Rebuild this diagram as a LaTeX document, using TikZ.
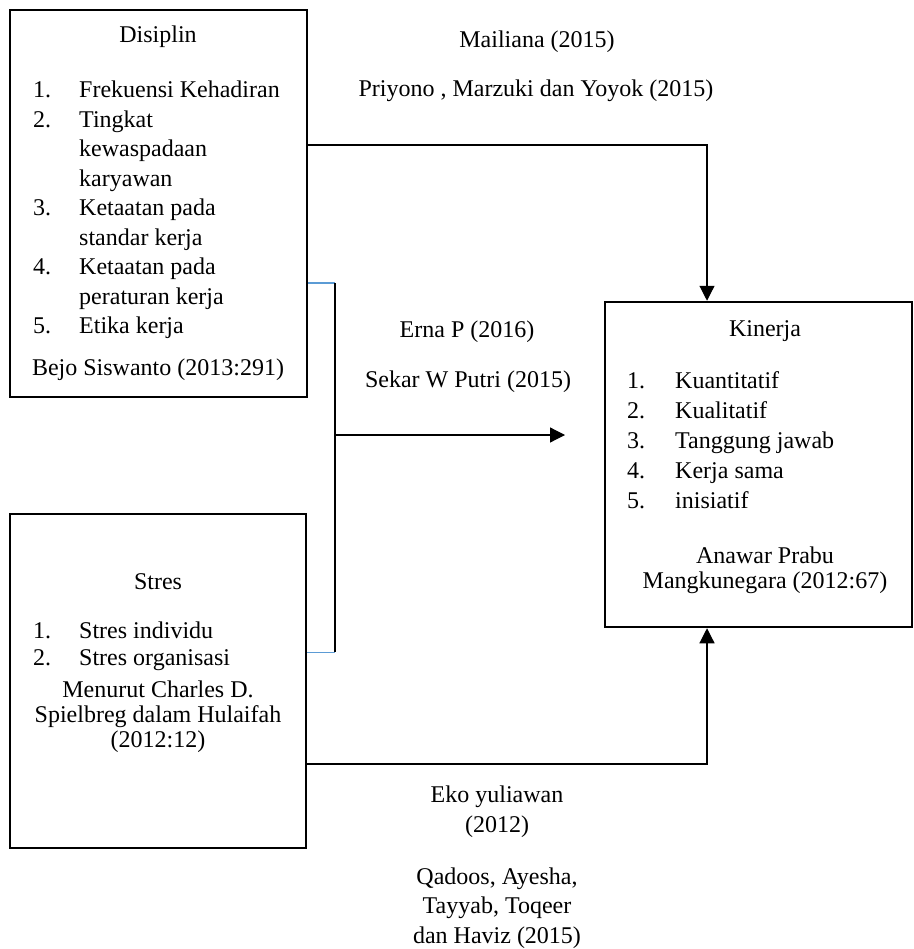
\documentclass[tikz,border=0pt]{standalone}
\usepackage{fontspec}
\setmainfont{Liberation Serif}
\usetikzlibrary{arrows.meta,positioning}
\definecolor{linkblue}{RGB}{91,155,213}

\begin{document}
\begin{tikzpicture}[x=1pt, y=-1pt,
  every node/.style={font=\fontsize{24}{30}\selectfont, inner sep=0pt},
  box/.style={draw, line width=2.5pt},
  conn/.style={line width=1.2pt},
  arr/.style={conn, -{Triangle[length=15pt, width=15pt]}},
  brace/.style={linkblue, line width=1pt}]
  \useasboundingbox (0,0) rectangle (913,949);
  % variable boxes
  \node[box, minimum width=297pt, minimum height=387pt] (dis) at (158.5,203.5) {};
  \node[box, minimum width=296pt, minimum height=334pt] (str) at (158,681) {};
  \node[box, minimum width=307pt, minimum height=325pt] (kin) at (758.5,464.5) {};
  % Disiplin
  \node (dist) at (158,37) {Disiplin};
  \node[anchor=base west, font=\fontsize{24}{29.5}\selectfont] (disl) at (33,98)
    {\begin{tabular}[t]{@{}p{46pt}@{}l@{}}
      1. & Frekuensi Kehadiran\\
      2. & Tingkat\\
         & kewaspadaan\\
         & karyawan\\
      3. & Ketaatan pada\\
         & standar kerja\\
      4. & Ketaatan pada\\
         & peraturan kerja\\
      5. & Etika kerja
    \end{tabular}};
  \node (diss) at (158,370) {Bejo Siswanto (2013:291)};
  % Stres
  \node (strt) at (158,582) {Stres};
  \node[anchor=base west, font=\fontsize{24}{27}\selectfont] (strl) at (33,638)
    {\begin{tabular}[t]{@{}p{46pt}@{}l@{}}
      1. & Stres individu\\
      2. & Stres organisasi
    \end{tabular}};
  \node[align=center, font=\fontsize{24}{25}\selectfont] (strs) at (158,717)
    {Menurut Charles D.\\ Spielbreg dalam Hulaifah\\ (2012:12)};
  % Kinerja
  \node (kint) at (765,331) {Kinerja};
  \node[anchor=base west] (kinl) at (627,388)
    {\begin{tabular}[t]{@{}p{48pt}@{}l@{}}
      1. & Kuantitatif\\
      2. & Kualitatif\\
      3. & Tanggung jawab\\
      4. & Kerja sama\\
      5. & inisiatif
    \end{tabular}};
  \node[align=center, font=\fontsize{24}{25}\selectfont] (kins) at (765,570)
    {Anawar Prabu\\ Mangkunegara (2012:67)};
  % references
  \node (mail) at (537,42) {Mailiana (2015)};
  \node (priy) at (536,91) {Priyono , Marzuki dan Yoyok (2015)};
  \node (erna) at (467,332) {Erna P (2016)};
  \node (sekar) at (468,382) {Sekar W Putri (2015)};
  \node[align=center] (eko) at (497,812) {Eko yuliawan\\ (2012)};
  \node[align=center, font=\fontsize{24}{29.5}\selectfont] (qad) at (497,908)
    {Qadoos, Ayesha,\\ Tayyab, Toqeer\\ dan Haviz (2015)};
  % connectors
  \coordinate (jtop) at (335,283);
  \coordinate (jbot) at (335,652);
  \coordinate (jmid) at (335,435);
  \coordinate (jend) at (565,435);
  \draw[arr] (dis.east |- 0,145) -| (kin.north -| 707,0);
  \draw[arr] (str.east |- 0,764) -| (kin.south -| 707,0);
  \draw[brace] (dis.east |- jtop) -- (jtop);
  \draw[brace] (str.east |- jbot) -- (jbot);
  \draw[conn] (jtop) -- (jbot);
  \draw[arr] (jmid) -- (jend);
\end{tikzpicture}
\end{document}
